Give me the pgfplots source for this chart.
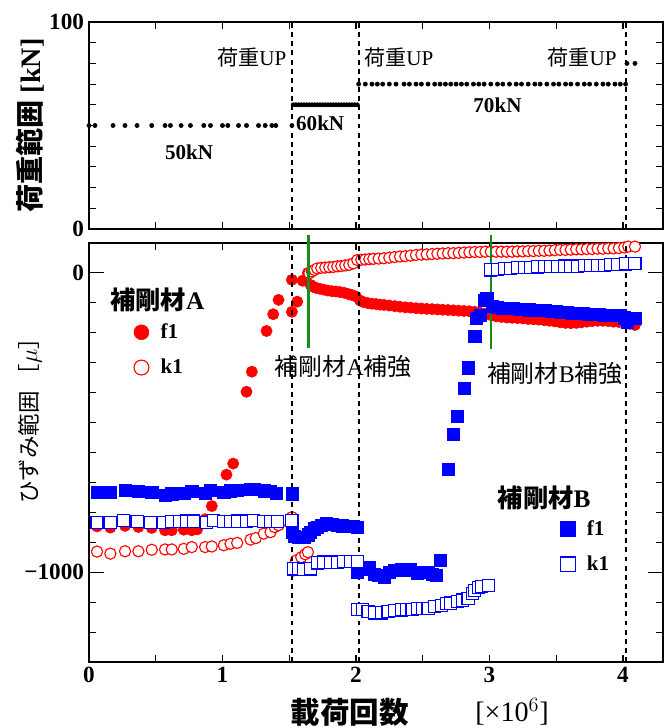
\documentclass[border=0pt]{standalone}
\usepackage{fontspec}
\setmainfont{Liberation Serif}
\newfontfamily\jp{Noto Sans CJK JP}
\usepackage{pgfplots}
\pgfplotsset{compat=1.18}

\definecolor{pRed}{rgb}{1,0,0}
\definecolor{pBlue}{rgb}{0,0,1}
\definecolor{pGreen}{rgb}{0.1,0.55,0.1}

\newcommand{\tickfont}{\fontsize{16.5}{16.5}\selectfont\bfseries}
\newcommand{\labfont}{\fontsize{20}{20}\selectfont\bfseries}
\newcommand{\annfont}{\fontsize{15}{15}\selectfont}
\newcommand{\legfont}{\fontsize{15}{15}\selectfont\bfseries}

\pgfplotsset{
  panel/.style={
    scale only axis, width=143.5mm,
    xmin=0, xmax=4.3,
    axis line style={line width=1.1pt},
    tick style={black, line width=0.8pt},
    tick align=inside,
    major tick length=1.75mm, minor tick length=1.75mm,
    ticklabel style={font=\tickfont},
    /pgf/number format/assume math mode=true,
    clip=false,
  },
  vline/.style={black, line width=1.5pt, dash pattern=on 3.5pt off 3pt, forget plot},
  gline/.style={pGreen, line width=1.7pt, forget plot},
  fcirc/.style={only marks, mark=*, mark size=4pt, mark options={draw=pRed, fill=pRed}},
  ocirc/.style={only marks, mark=*, mark size=4pt, mark options={draw=pRed, fill=white, line width=0.8pt}},
  fsq/.style={only marks, mark=square*, mark size=4.3pt, mark options={draw=pBlue, fill=pBlue}},
  osq/.style={only marks, mark=square*, mark size=4.3pt, mark options={draw=pBlue, fill=white, line width=0.8pt}},
  myleg/.style={
    legend style={draw=none, fill=none, inner sep=0pt, font=\legfont, row sep=3.9mm,
      nodes={inner sep=1pt},
      /tikz/every odd column/.style={column sep=2.6mm}},
    legend cell align=left,
    legend image post style={mark size=5.3pt},
    legend image code/.code={\draw[##1] plot coordinates {(0.25cm,0cm)};},
  },
}

\begin{document}
\begin{tikzpicture}
\path[use as bounding box] (-22.25mm,-16.5mm) rectangle (145.25mm,165.5mm);

% ---------- load range ----------
\begin{axis}[panel, at={(0,108.25mm)}, anchor=south west, height=51.75mm,
  ymin=0, ymax=100, ytick={0,100}, minor ytick={10,20,...,90},
  xtick={0,0.5,...,4}, xticklabels={},
  ylabel={{\jp 荷重範囲} [kN]},
  ylabel style={font=\labfont, at={(axis description cs:-0.103,0.5)}, anchor=center},
]
\addplot[only marks, mark=*, mark size=1.5pt, black] coordinates {
  (0,50) (0.045,50) (0.18,50) (0.27,50) (0.36,50) (0.47,50) (0.57,50) (0.61,50)
  (0.69,50) (0.76,50) (0.86,50) (0.91,50) (1.00,50) (1.04,50) (1.12,50) (1.18,50)
  (1.27,50) (1.32,50) (1.37,50) (1.40,50) (1.52,50)
};
\addplot[only marks, mark=*, mark size=1.5pt, black] coordinates {
  (1.53,60) (1.55,60) (1.57,60) (1.59,60) (1.61,60) (1.63,60) (1.65,60) (1.67,60)
  (1.69,60) (1.71,60) (1.73,60) (1.75,60) (1.77,60) (1.79,60) (1.81,60) (1.83,60)
  (1.85,60) (1.87,60) (1.89,60) (1.91,60) (1.93,60) (1.95,60) (1.97,60) (1.99,60) (2.01,60)
};
\addplot[only marks, mark=*, mark size=1.5pt, black] coordinates {
  (2.02,70) (2.07,70) (2.12,70) (2.16,70) (2.20,70) (2.25,70) (2.30,70) (2.36,70)
  (2.40,70) (2.45,70) (2.49,70) (2.54,70) (2.59,70) (2.63,70) (2.67,70) (2.71,70)
  (2.75,70) (2.79,70) (2.83,70) (2.88,70) (2.92,70) (2.96,70) (3.01,70) (3.06,70)
  (3.10,70) (3.15,70) (3.20,70) (3.24,70) (3.29,70) (3.34,70) (3.38,70) (3.43,70)
  (3.48,70) (3.52,70) (3.57,70) (3.61,70) (3.66,70) (3.71,70) (3.75,70) (3.80,70)
  (3.85,70) (3.89,70) (3.94,70) (3.98,70) (4.02,70)
};
\addplot[only marks, mark=*, mark size=1.5pt, black] coordinates {(4.03,80) (4.09,80)};
\addplot[vline] coordinates {(1.52,0) (1.52,100)};
\addplot[vline] coordinates {(2.02,0) (2.02,100)};
\addplot[vline] coordinates {(4.02,0) (4.02,100)};
\node[font=\annfont, anchor=east, inner sep=0pt] at (axis cs:1.48,83) {{\jp 荷重}UP};
\node[font=\annfont, anchor=west, inner sep=0pt] at (axis cs:2.06,83) {{\jp 荷重}UP};
\node[font=\annfont, anchor=east, inner sep=0pt] at (axis cs:3.955,83) {{\jp 荷重}UP};
\node[font=\annfont\bfseries, inner sep=0pt] at (axis cs:0.75,37) {50kN};
\node[font=\annfont\bfseries, anchor=west, inner sep=0pt] at (axis cs:1.55,51) {60kN};
\node[font=\annfont\bfseries, inner sep=0pt] at (axis cs:3.06,60) {70kN};
\end{axis}

% ---------- strain range, stiffener A ----------
\begin{axis}[panel, myleg, at={(0,0)}, anchor=south west, height=104.75mm,
  ymin=-1300, ymax=100, ytick={-1000,0}, yticklabels={−1000,0},
  minor ytick={-1200,-1100,-900,-800,-700,-600,-500,-400,-300,-200,-100},
  every major y tick/.append style={/pgfplots/major tick length=3.75mm},
  xtick={0,1,2,3,4}, minor xtick={0.5,1.5,2.5,3.5},
  ylabel={{\jp ひずみ範囲 ［}$\mu${\jp ］}},
  ylabel style={font=\fontsize{16}{16}\selectfont, at={(axis description cs:-0.103,0.589)}, anchor=center},
  legend style={at={(axis cs:0.335,-257)}, anchor=west},
]
\addplot[fcirc] coordinates {
  (0.06,-847) (0.16,-851) (0.27,-845) (0.37,-849) (0.47,-852) (0.57,-860) (0.62,-860)
  (0.71,-858) (0.77,-860) (0.81,-857) (0.87,-823) (0.92,-779) (1.03,-674) (1.08,-637)
  (1.18,-397) (1.22,-330) (1.33,-194) (1.38,-138) (1.42,-90) (1.52,-130) (1.52,-23)
  (1.56,-96) (1.60,-26) (1.64,0)
  (1.66,-40) (1.68,-46) (1.70,-50) (1.73,-53) (1.76,-56) (1.79,-59) (1.82,-61) (1.85,-62)
  (1.88,-64) (1.91,-66) (1.94,-70) (1.97,-74) (2.00,-79) (2.03,-92) (2.06,-98) (2.09,-101)
  (2.12,-103) (2.15,-104) (2.18,-106) (2.21,-107) (2.25,-109) (2.29,-111) (2.33,-113)
  (2.37,-115) (2.41,-116) (2.45,-118) (2.49,-119) (2.53,-120) (2.57,-121) (2.61,-122)
  (2.65,-123) (2.69,-124) (2.73,-125) (2.77,-126) (2.81,-127) (2.85,-128) (2.89,-130)
  (2.93,-133) (2.97,-137) (3.01,-141) (3.05,-145) (3.09,-147) (3.13,-149) (3.17,-150)
  (3.21,-151) (3.25,-152) (3.29,-154) (3.33,-155) (3.37,-156) (3.41,-158) (3.45,-160)
  (3.49,-162) (3.53,-165) (3.57,-167) (3.61,-168) (3.65,-167) (3.69,-165) (3.73,-163)
  (3.77,-161) (3.81,-160) (3.85,-160) (3.89,-161) (3.93,-163) (3.97,-164) (4.01,-166)
  (4.05,-170) (4.09,-174)
};
\addlegendentry{f1}
\addplot[ocirc] coordinates {
  (0.06,-931) (0.16,-938) (0.27,-930) (0.37,-930) (0.47,-925) (0.57,-924) (0.62,-924)
  (0.71,-922) (0.77,-916) (0.87,-916) (0.92,-914) (1.01,-910) (1.06,-905) (1.11,-902)
  (1.21,-891) (1.25,-886) (1.31,-871) (1.36,-866) (1.39,-849) (1.42,-843) (1.52,-816)
  (1.53,-994) (1.55,-961) (1.59,-950) (1.62,-940) (1.64,-933)
  (1.65,-1) (1.67,5) (1.69,10) (1.71,15) (1.74,17) (1.77,18) (1.80,19) (1.83,20)
  (1.86,22) (1.89,23) (1.92,25) (1.95,27) (1.98,32) (2.01,43) (2.04,44) (2.07,45)
  (2.10,46) (2.13,47) (2.17,48) (2.21,49) (2.25,51) (2.29,53) (2.33,55) (2.37,56)
  (2.41,58) (2.45,60) (2.49,61) (2.53,62) (2.57,63) (2.61,64) (2.65,65) (2.69,66)
  (2.73,66) (2.77,67) (2.81,68) (2.85,69) (2.89,70) (2.93,70) (2.97,71) (3.01,71)
  (3.05,71) (3.09,71) (3.13,71) (3.17,71) (3.21,72) (3.25,72) (3.29,73) (3.33,73)
  (3.37,74) (3.41,74) (3.45,75) (3.49,76) (3.53,77) (3.57,77) (3.61,78) (3.65,79)
  (3.69,79) (3.73,80) (3.77,80) (3.81,81) (3.85,81) (3.89,82) (3.93,82) (3.97,83)
  (4.01,85) (4.04,88) (4.09,88)
};
\addlegendentry{k1}
\node[font=\fontsize{18}{18}\selectfont\bfseries, anchor=west, inner sep=0pt]
  at (axis cs:0.157,-90) {{\jp 補剛材}A};
\node[font=\fontsize{21}{21}\selectfont\bfseries, inner sep=0pt]
  at (axis description cs:0.4547,-0.119) {\jp 載荷回数};
\node[font=\fontsize{20}{20}\selectfont, inner sep=0pt]
  at (axis description cs:0.737,-0.119) {[×10$^{6}$]};
\end{axis}

% ---------- strain range, stiffener B (overlay) ----------
\begin{axis}[panel, myleg, hide axis, at={(0,0)}, anchor=south west, height=104.75mm,
  ymin=-1300, ymax=100,
  legend style={at={(axis cs:3.528,-915)}, anchor=west},
]
\addplot[fsq] coordinates {
  (0.06,-733) (0.16,-733) (0.27,-725) (0.37,-730) (0.47,-733) (0.57,-742) (0.62,-738)
  (0.71,-737) (0.77,-730) (0.87,-735) (0.91,-727) (1.01,-733) (1.06,-728) (1.11,-727)
  (1.21,-724) (1.24,-722) (1.31,-728) (1.36,-729) (1.40,-735) (1.52,-738)
  (1.52,-866) (1.54,-880) (1.57,-883) (1.61,-883) (1.64,-875) (1.66,-868) (1.69,-855)
  (1.71,-849) (1.74,-843) (1.78,-838) (1.82,-840) (1.86,-843) (1.90,-845) (1.94,-847)
  (1.98,-848) (2.01,-849)
  (2.01,-1000) (2.06,-990) (2.10,-983) (2.14,-1008) (2.17,-1011) (2.21,-1017) (2.25,-1000)
  (2.29,-994) (2.34,-989) (2.38,-992) (2.41,-989) (2.46,-1005) (2.50,-1000) (2.54,-1000)
  (2.57,-1006) (2.60,-1011) (2.63,-961)
  (2.69,-657) (2.73,-540) (2.76,-479) (2.81,-386) (2.84,-317) (2.89,-211) (2.90,-152)
  (2.93,-141) (2.96,-90) (2.98,-85)
  (3.02,-110) (3.06,-115) (3.10,-117) (3.14,-118) (3.18,-119) (3.22,-120) (3.26,-122)
  (3.30,-123) (3.34,-124) (3.38,-125) (3.42,-126) (3.46,-127) (3.50,-128) (3.54,-130)
  (3.58,-132) (3.62,-134) (3.66,-135) (3.70,-136) (3.74,-137) (3.78,-138) (3.82,-139)
  (3.86,-140) (3.90,-141) (3.94,-141) (3.98,-142) (4.01,-150) (4.03,-165) (4.09,-152)
};
\addlegendentry{f1}
\addplot[osq] coordinates {
  (0.06,-833) (0.16,-833) (0.26,-827) (0.36,-830) (0.46,-833) (0.56,-833) (0.62,-831)
  (0.68,-830) (0.73,-829) (0.78,-829) (0.88,-833) (0.93,-828) (1.01,-830) (1.06,-830)
  (1.11,-829) (1.18,-829) (1.23,-826) (1.31,-831) (1.36,-831) (1.41,-830) (1.52,-827)
  (1.53,-989) (1.57,-989) (1.61,-991) (1.66,-989) (1.71,-969) (1.76,-966) (1.81,-966)
  (1.86,-966) (1.91,-964) (1.96,-964) (2.01,-964)
  (2.01,-1125) (2.05,-1125) (2.09,-1130) (2.14,-1136) (2.19,-1136) (2.24,-1130)
  (2.29,-1128) (2.34,-1126) (2.38,-1125) (2.42,-1124) (2.46,-1122) (2.50,-1120)
  (2.54,-1120) (2.59,-1115) (2.64,-1111) (2.68,-1105) (2.71,-1103) (2.76,-1098)
  (2.80,-1093) (2.84,-1089) (2.87,-1070) (2.89,-1061) (2.92,-1050) (2.94,-1047) (2.99,-1045)
  (3.01,10) (3.06,12) (3.11,14) (3.16,16) (3.21,17) (3.26,18) (3.31,19) (3.36,20)
  (3.41,21) (3.46,22) (3.51,22) (3.56,23) (3.61,23) (3.66,23) (3.71,24) (3.76,24)
  (3.81,25) (3.86,26) (3.91,27) (3.96,28) (4.02,30) (4.09,32)
};
\addlegendentry{k1}
\addplot[vline] coordinates {(1.52,-1300) (1.52,100)};
\addplot[vline] coordinates {(2.02,-1300) (2.02,100)};
\addplot[vline] coordinates {(4.02,-1300) (4.02,100)};
\addplot[gline] coordinates {(1.645,-252) (1.645,127)};
\addplot[gline] coordinates {(3.01,-254) (3.01,127)};
\node[font=\fontsize{18}{18}\selectfont\bfseries, anchor=west, inner sep=0pt]
  at (axis cs:3.06,-753) {{\jp 補剛材}B};
\node[font=\fontsize{17}{17}\selectfont, anchor=west, inner sep=0pt]
  at (axis cs:1.39,-311) {{\jp 補剛材}A{\jp 補強}};
\node[font=\fontsize{17}{17}\selectfont, anchor=west, inner sep=0pt]
  at (axis cs:2.98,-335) {{\jp 補剛材}B{\jp 補強}};
\end{axis}
\end{tikzpicture}
\end{document}
